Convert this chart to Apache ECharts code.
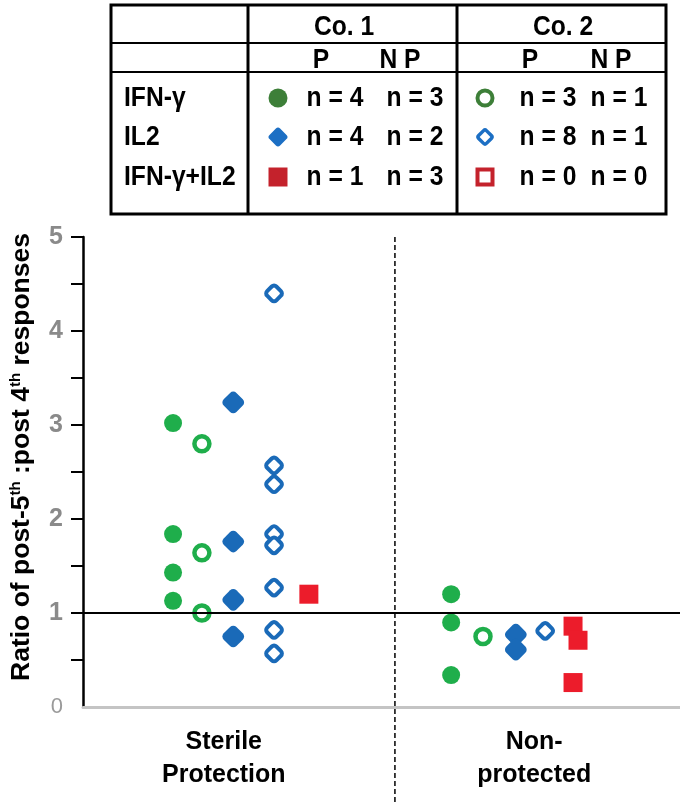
<!DOCTYPE html>
<html>
<head>
<meta charset="utf-8">
<script src="https://cdn.jsdelivr.net/npm/echarts@6/dist/echarts.min.js"></script>
<style>
  html, body { margin: 0; padding: 0; background: #fff; }
  #main { width: 680px; height: 802px; }
</style>
</head>
<body>
<div id="main"></div>
<script>
// x = column position inside each group (0..12 axis units), y = ratio
const ifnCo1 = [[1.81, 3.02], [1.81, 1.84], [1.81, 1.43], [1.81, 1.13], [7.40, 1.20], [7.40, 0.90], [7.40, 0.34]]
const ifnCo2 = [[2.39, 2.80], [2.39, 1.64], [2.39, 1.00], [8.04, 0.75]]
const il2Co1 = [[3.02, 3.24], [3.02, 1.76], [3.02, 1.14], [3.02, 0.75], [8.70, 0.77], [8.70, 0.61]]
const il2Co2 = [[3.84, 4.40], [3.84, 2.57], [3.84, 2.37], [3.84, 1.84], [3.84, 1.72], [3.84, 1.27], [3.84, 0.82], [3.84, 0.57], [9.29, 0.81]]
const bothCo1 = [[4.54, 1.20], [9.85, 0.86], [9.95, 0.71], [9.85, 0.26]]

const groups = ['Sterile\nProtection', 'Non-\nprotected']
const groupPos = [2.83, 9.07]
const dividerX = 6.27
const refLine = 1
const yTicks = [0, 1, 2, 3, 4, 5]
const yMinorTicks = [0.5, 1, 1.5, 2, 2.5, 3, 3.5, 4, 4.5, 5]

// legend table
const tableRows = ['IFN-γ', 'IL2', 'IFN-γ+IL2']
const co1P = [4, 4, 1]
const co1NP = [3, 2, 3]
const co2P = [3, 8, 0]
const co2NP = [1, 1, 0]

const GREEN = '#1fae4b', BLUE = '#1a6ab8', RED = '#ec1c2b'
const T_GREEN = '#3d7f38', T_BLUE = '#1c6fc4', T_RED = '#c4222c'
const SANS = '"Liberation Sans", Arial, sans-serif'

const chart = echarts.init(document.getElementById('main'))

const option = {
    animation: false,
    backgroundColor: '#fff',
    grid: { left: 77, right: 0, top: 237, bottom: 95 },
    xAxis: {
        type: 'value',
        min: 0,
        max: 12,
        splitLine: { show: false },
        axisTick: { show: false },
        axisLine: { lineStyle: { color: '#c4c4c4', width: 3 } },
        axisLabel: {
            customValues: groupPos,
            formatter: (v) => groups[groupPos.indexOf(v)] || '',
            margin: 19,
            color: '#000',
            fontFamily: SANS,
            fontWeight: 'bold',
            fontSize: 25,
            lineHeight: 33
        }
    },
    yAxis: {
        type: 'value',
        min: 0,
        max: 5,
        interval: 0.5,
        splitLine: { show: false },
        axisLine: { show: true, lineStyle: { color: '#000', width: 2.5 } },
        axisTick: { show: true, customValues: yMinorTicks, length: 12, lineStyle: { color: '#000', width: 2 } },
        axisLabel: {
            customValues: yTicks,
            margin: 20,
            formatter: (v) => v === 0 ? '{z|0}' : '{b|' + v + '}',
            rich: {
                b: { fontFamily: SANS, fontWeight: 'bold', fontSize: 25, color: '#8a8a8a' },
                z: { fontFamily: SANS, fontSize: 22, color: '#9a9a9a' }
            }
        },
        name: 'Ratio of post-5{s|th} :post 4{s|th} responses',
        nameLocation: 'middle',
        nameRotate: 90,
        nameGap: 48,
        nameTextStyle: {
            fontFamily: SANS,
            fontWeight: 'bold',
            fontSize: 26.5,
            color: '#000',
            padding: [0, 0, 0, 30],
            rich: {
                s: { fontFamily: SANS, fontWeight: 'bold', fontSize: 15, color: '#000', verticalAlign: 'top', lineHeight: 27 }
            }
        }
    },
    series: [
        {
            name: 'IFN-γ Co.1',
            type: 'scatter',
            data: ifnCo1,
            symbol: 'circle',
            symbolSize: 18,
            itemStyle: { color: GREEN, opacity: 1 },
            markLine: {
                silent: true,
                symbol: 'none',
                label: { show: false },
                lineStyle: { color: '#000', width: 2, type: 'solid' },
                data: [{ yAxis: refLine }]
            }
        },
        {
            name: 'IFN-γ Co.2',
            type: 'scatter',
            data: ifnCo2,
            symbol: 'circle',
            symbolSize: 15,
            itemStyle: { color: '#fff', borderColor: GREEN, borderWidth: 4.5, opacity: 1 }
        },
        {
            name: 'IL2 Co.1',
            type: 'scatter',
            data: il2Co1,
            symbol: 'roundRect',
            symbolRotate: 45,
            symbolSize: 18,
            itemStyle: { color: BLUE, opacity: 1 }
        },
        {
            name: 'IL2 Co.2',
            type: 'scatter',
            data: il2Co2,
            symbol: 'roundRect',
            symbolRotate: 45,
            symbolSize: 13,
            itemStyle: { color: '#fff', borderColor: BLUE, borderWidth: 4, opacity: 1 }
        },
        {
            name: 'IFN-γ+IL2 Co.1',
            type: 'scatter',
            data: bothCo1,
            symbol: 'rect',
            symbolSize: 19,
            itemStyle: { color: RED, opacity: 1 }
        }
    ]
}

chart.setOption(option)

// table + divider drawn as graphics
const txt = (text, x, y, align) => ({
    type: 'text',
    x: x,
    y: y,
    scaleX: 0.88,
    style: {
        text: text,
        fill: '#000',
        font: 'bold 28px ' + SANS,
        align: align || 'center',
        verticalAlign: 'middle'
    }
})
const line = (x1, y1, x2, y2, w) => ({
    type: 'line',
    shape: { x1: x1, y1: y1, x2: x2, y2: y2 },
    style: { stroke: '#000', lineWidth: w }
})

const tL = 111, tR = 666, tT = 5, tB = 214
const c1 = 248, c2 = 457
const rowY = [98, 137, 177]
const g = []
g.push({ type: 'rect', shape: { x: tL, y: tT, width: tR - tL, height: tB - tT }, style: { fill: 'none', stroke: '#000', lineWidth: 3 } })
g.push(line(c1, tT, c1, tB, 3))
g.push(line(c2, tT, c2, tB, 3))
g.push(line(tL, 43, tR, 43, 2))
g.push(line(tL, 72, tR, 72, 2))
g.push(txt('Co. 1', 344, 27))
g.push(txt('Co. 2', 563, 27))
g.push(txt('P', 321, 60))
g.push(txt('N P', 400, 60))
g.push(txt('P', 530, 60))
g.push(txt('N P', 611, 60))

tableRows.forEach((r, i) => {
    g.push(txt(r, 124, rowY[i], 'left'))
    g.push(txt('n = ' + co1P[i], 335, rowY[i]))
    g.push(txt('n = ' + co1NP[i], 415, rowY[i]))
    g.push(txt('n = ' + co2P[i], 548, rowY[i]))
    g.push(txt('n = ' + co2NP[i], 619, rowY[i]))
})

// table symbols
const s1 = 278, s2 = 485
g.push({ type: 'circle', shape: { cx: s1, cy: rowY[0], r: 9.5 }, style: { fill: T_GREEN } })
g.push({ type: 'rect', x: s1, y: rowY[1], rotation: Math.PI / 4, shape: { x: -7.5, y: -7.5, width: 15, height: 15, r: 3 }, style: { fill: T_BLUE } })
g.push({ type: 'rect', shape: { x: s1 - 9.5, y: rowY[2] - 9.5, width: 19, height: 19 }, style: { fill: T_RED } })
g.push({ type: 'circle', shape: { cx: s2, cy: rowY[0], r: 7.5 }, style: { fill: '#fff', stroke: T_GREEN, lineWidth: 4 } })
g.push({ type: 'rect', x: s2, y: rowY[1], rotation: Math.PI / 4, shape: { x: -5.5, y: -5.5, width: 11, height: 11, r: 2 }, style: { fill: '#fff', stroke: T_BLUE, lineWidth: 3.5 } })
g.push({ type: 'rect', shape: { x: s2 - 7.5, y: rowY[2] - 7.5, width: 15, height: 15 }, style: { fill: '#fff', stroke: T_RED, lineWidth: 4 } })

// dashed divider runs from the top of the y range down past the x axis
const dx = chart.convertToPixel({ xAxisIndex: 0 }, dividerX)
const dTop = chart.convertToPixel({ yAxisIndex: 0 }, 5)
g.push({
    type: 'line',
    shape: { x1: dx, y1: dTop, x2: dx, y2: 802 },
    style: { stroke: '#000', lineWidth: 1.5, lineDash: [5, 3] }
})

chart.setOption({ graphic: g })
</script>
</body>
</html>
